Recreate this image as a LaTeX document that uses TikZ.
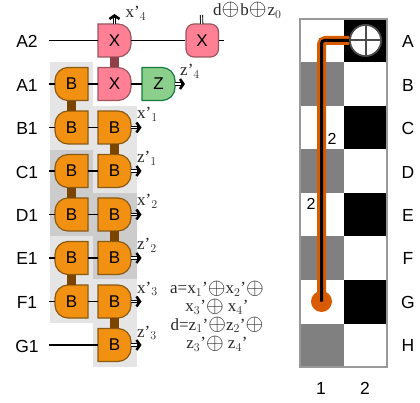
\documentclass[tikz,border=0pt]{standalone}
\usepackage{fontspec}
\usepackage{graphicx}
\setmainfont{Liberation Serif}
\newfontfamily\lab{Liberation Sans}
\usetikzlibrary{arrows.meta}
\definecolor{org}{HTML}{F29111}
\definecolor{orgd}{HTML}{8A5A14}
\definecolor{orgb}{HTML}{7B4500}
\definecolor{pnk}{HTML}{FF8095}
\definecolor{pnkd}{HTML}{99565F}
\definecolor{pnkb}{HTML}{8F4048}
\definecolor{grn}{HTML}{8CCF8C}
\definecolor{grnd}{HTML}{127A3C}
\definecolor{lightbg}{HTML}{E5E5E5}
\definecolor{darkbg}{HTML}{CCCCCC}
\definecolor{cellgray}{HTML}{808080}
\definecolor{route}{HTML}{D95B00}
\newcommand\xo{\raisebox{-0.5pt}{\scalebox{1.32}{$\oplus$}}}
\newcommand\rgate[5]{\draw[#4] (#2-16.5,#3-16.5) -- (#2+3.5,#3-16.5) .. controls (#2+10.65,#3-16.5) and (#2+16.5,#3-10.65) .. (#2+16.5,#3-3.5) -- (#2+16.5,#3+3.5) .. controls (#2+16.5,#3+10.65) and (#2+10.65,#3+16.5) .. (#2+3.5,#3+16.5) -- (#2-16.5,#3+16.5) -- cycle;
\node[gatetext] (#1) at (#2,#3) {#5};}
\newcommand\lgate[5]{\draw[#4] (#2+16.5,#3-16.5) -- (#2-3.5,#3-16.5) .. controls (#2-10.65,#3-16.5) and (#2-16.5,#3-10.65) .. (#2-16.5,#3-3.5) -- (#2-16.5,#3+3.5) .. controls (#2-16.5,#3+10.65) and (#2-10.65,#3+16.5) .. (#2-3.5,#3+16.5) -- (#2+16.5,#3+16.5) -- cycle;
\node[gatetext] (#1) at (#2,#3) {#5};}
\newcommand\outw[2]{\draw[arrowbody] (#1) -- (#2);\draw[arrowcore] (#1) -- (#2);}
\tikzset{
  gatetext/.style={minimum size=33pt,inner sep=0pt,font=\lab\fontsize{17}{17}\selectfont},
  bgate/.style={fill=org,draw=orgd,line width=1.2pt},
  xgate/.style={fill=pnk,draw=pnkd,line width=1.2pt},
  zgate/.style={fill=grn,draw=grnd,line width=1.2pt},
  wire/.style={line width=1.1pt,black},
  bbar/.style={line width=9pt,orgb},
  xbar/.style={line width=9pt,pnkb},
  dbl/.style={line width=0.9pt,double,double distance=1.4pt},
  arrowbody/.style={line width=3.4pt,black,-{Straight Barb[length=3.5pt,width=10pt,line width=2.5pt]}},
  arrowcore/.style={line width=1.2pt,white,shorten >=4.5pt},
  rowlabel/.style={font=\lab\fontsize{17.5}{17.5}\selectfont,inner sep=0pt},
  prim/.style={font=\fontsize{17}{17}\selectfont,inner sep=0pt,text=black!85,anchor=base west},
  eq/.style={font=\fontsize{17}{18.3}\selectfont,align=center,inner sep=0pt,text=black!85},
  small/.style={font=\lab\fontsize{16}{16}\selectfont,inner sep=0pt},
}
\begin{document}
\begin{tikzpicture}[x=1pt,y=-1pt]
\useasboundingbox (0,0) rectangle (420,403);
% background bands
\fill[lightbg] (50,62) rectangle (93,150);
\fill[lightbg] (93,106) rectangle (137,193);
\fill[darkbg] (50,150) rectangle (93,236);
\fill[darkbg] (93,193) rectangle (137,279);
\fill[lightbg] (50,236) rectangle (93,323);
\fill[lightbg] (93,279) rectangle (137,367);
% gates
\rgate{xa}{114.5}{40.5}{xgate}{X}
\rgate{xb}{114.5}{84}{xgate}{X}
\rgate{zb}{158.5}{84}{zgate}{Z}
\draw[xgate,rounded corners=8pt] (186,24) rectangle (218.5,57);
\node[gatetext] (xr) at (202,40.5) {X};
\lgate{ba}{71.5}{84}{bgate}{B}
\lgate{bb}{71.5}{127.5}{bgate}{B}
\lgate{bc}{71.5}{171}{bgate}{B}
\lgate{bd}{71.5}{214.5}{bgate}{B}
\lgate{be}{71.5}{258}{bgate}{B}
\lgate{bf}{71.5}{301.5}{bgate}{B}
\rgate{cb}{114.5}{127.5}{bgate}{B}
\rgate{cc}{114.5}{171}{bgate}{B}
\rgate{cd}{114.5}{214.5}{bgate}{B}
\rgate{ce}{114.5}{258}{bgate}{B}
\rgate{cf}{114.5}{301.5}{bgate}{B}
\rgate{cg}{114.5}{345}{bgate}{B}
% row labels on the left
\node[rowlabel] (la2) at (27,41) {A2};
\node[rowlabel] (la1) at (27,85) {A1};
\node[rowlabel] (lb1) at (27,128) {B1};
\node[rowlabel] (lc1) at (27,172) {C1};
\node[rowlabel] (ld1) at (27,215) {D1};
\node[rowlabel] (le1) at (27,258) {E1};
\node[rowlabel] (lf1) at (27,302) {F1};
\node[rowlabel] (lg1) at (27,346) {G1};
% free wire ends
\coordinate (ia2) at (49,40.5);
\coordinate (ia1) at (49,84);
\coordinate (ib1) at (49,127.5);
\coordinate (ic1) at (49,171);
\coordinate (id1) at (49,214.5);
\coordinate (ie1) at (49,258);
\coordinate (if1) at (49,301.5);
\coordinate (ig1) at (49,345);
\coordinate (oa2) at (224,40.5);
\coordinate (ox4) at (114.5,14);
\coordinate (oz4) at (185,84);
\coordinate (ox1) at (141.5,127.5);
\coordinate (oz1) at (141.5,171);
\coordinate (ox2) at (141.5,214.5);
\coordinate (oz2) at (141.5,258);
\coordinate (ox3) at (141.5,301.5);
\coordinate (oz3) at (141.5,345);
\coordinate (om) at (201.5,15);
% wires
\draw[wire] (ia2) -- (xa);
\draw[wire] (xa) -- (xr);
\draw[wire] (xr) -- (oa2);
\draw[wire] (ia1) -- (ba);
\draw[wire] (ba) -- (xb);
\draw[wire] (xb) -- (zb);
\draw[wire] (ib1) -- (bb);
\draw[wire] (bb) -- (cb);
\draw[wire] (ic1) -- (bc);
\draw[wire] (bc) -- (cc);
\draw[wire] (id1) -- (bd);
\draw[wire] (bd) -- (cd);
\draw[wire] (ie1) -- (be);
\draw[wire] (be) -- (ce);
\draw[wire] (if1) -- (bf);
\draw[wire] (bf) -- (cf);
\draw[wire] (ig1) -- (cg);
% thick couplers
\draw[xbar] (xa) -- (xb);
\draw[bbar] (ba) -- (bb);
\draw[bbar] (bc) -- (bd);
\draw[bbar] (be) -- (bf);
\draw[bbar] (cb) -- (cc);
\draw[bbar] (cd) -- (ce);
\draw[bbar] (cf) -- (cg);
% measured outputs
\outw{xa}{ox4}
\outw{zb}{oz4}
\outw{cb}{ox1}
\outw{cc}{oz1}
\outw{cd}{ox2}
\outw{ce}{oz2}
\outw{cf}{ox3}
\outw{cg}{oz3}
\draw[dbl] (xr) -- (om);
% output labels
\node[prim] (tx4) at (125.5,18) {x'$_4$};
\node[prim] (tz4) at (180,76) {z'$_4$};
\node[prim] (tx1) at (137,119) {x'$_1$};
\node[prim] (tz1) at (137,163) {z'$_1$};
\node[prim] (tx2) at (137,206) {x'$_2$};
\node[prim] (tz2) at (137,250) {z'$_2$};
\node[prim] (tx3) at (137,293) {x'$_3$};
\node[prim] (tz3) at (137,337) {z'$_3$};
\node[prim] (tm) at (213,15.5) {d\xo\kern1pt b\xo\kern1pt z$_0$};
\node[eq] (eqs) at (217,316) {a=x$_1$'\xo x$_2$'\xo\\ x$_3$'\xo\ x$_4$'\\ d=z$_1$'\xo z$_2$'\xo\\ z$_3$'\xo\ z$_4$'};
% lattice
\fill[white] (300,19) rectangle (387,367);
\fill[black] (343.5,19) rectangle (387,62.5);
\fill[black] (343.5,106) rectangle (387,149.5);
\fill[black] (343.5,193) rectangle (387,236.5);
\fill[black] (343.5,280) rectangle (387,323.5);
\fill[cellgray] (300,62.5) rectangle (343.5,106);
\fill[cellgray] (300,149.5) rectangle (343.5,193);
\fill[cellgray] (300,236.5) rectangle (343.5,280);
\fill[cellgray] (300,323.5) rectangle (343.5,367);
\draw[line width=1.5pt,black!40] (300,19) rectangle (387,367);
% route
\coordinate (pg) at (321.5,301.5);
\coordinate (pc) at (321.5,40.5);
\node[circle,fill=route,minimum size=21pt,inner sep=0pt] (dot) at (pg) {};
\node[circle,fill=white,draw=black!70,line width=1.6pt,minimum size=31pt,inner sep=0pt] (cross) at (365.5,40.5) {};
\draw[route,line width=9pt,rounded corners=4pt] (pg) -- (pc) -- (cross);
\draw[black,line width=3pt,rounded corners=3pt] (pg) -- (pc) -- (cross);
\node[circle,fill=white,draw=black!70,line width=1.6pt,minimum size=31pt,inner sep=0pt] (crossb) at (365.5,40.5) {};
\draw[black!70,line width=2pt] (crossb.north) -- (crossb.south);
\draw[black!70,line width=2pt] (crossb.west) -- (crossb.east);
\node[small] (n1) at (332,139) {2};
\node[small] (n2) at (311,204) {2};
% lattice labels
\node[rowlabel] (ra) at (408,41) {A};
\node[rowlabel] (rb) at (408,85) {B};
\node[rowlabel] (rc) at (408,128) {C};
\node[rowlabel] (rd) at (408,172) {D};
\node[rowlabel] (re) at (408,215) {E};
\node[rowlabel] (rf) at (408,258) {F};
\node[rowlabel] (rg) at (408,302) {G};
\node[rowlabel] (rh) at (408,345) {H};
\node[rowlabel] (c1) at (321,388) {1};
\node[rowlabel] (c2) at (365,388) {2};
\end{tikzpicture}
\end{document}
